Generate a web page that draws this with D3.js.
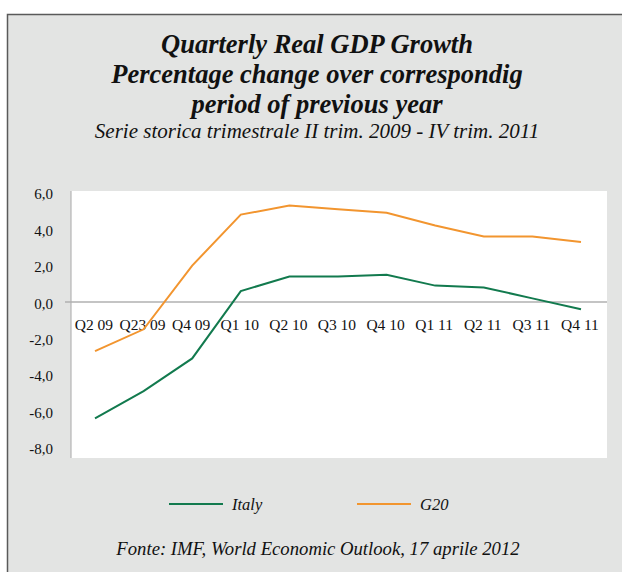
<!DOCTYPE html>
<html>
<head>
<meta charset="utf-8">
<script src="https://cdn.jsdelivr.net/npm/d3@7"></script>
<style>
  body { margin: 0; background: #fff; }
  svg text { font-family: "Liberation Serif", "DejaVu Serif", serif; fill: #111; }
</style>
</head>
<body>
<div class="chart"></div>
<script>
// data
const quarters = ['Q2 09', 'Q23 09', 'Q4 09', 'Q1 10', 'Q2 10', 'Q3 10', 'Q4 10', 'Q1 11', 'Q2 11', 'Q3 11', 'Q4 11']
const italy = [-6.4, -4.9, -3.1, 0.6, 1.4, 1.4, 1.5, 0.9, 0.8, 0.2, -0.4]
const g20 = [-2.7, -1.5, 2.0, 4.8, 5.3, 5.1, 4.9, 4.2, 3.6, 3.6, 3.3]
const yTicks = [6, 4, 2, 0, -2, -4, -6, -8]

const seriesList = [
  { name: 'Italy', values: italy, color: '#127a4e' },
  { name: 'G20', values: g20, color: '#f2952f' }
]

const width = 622
const height = 572

const svg = d3.select(".chart")
  .append("svg")
    .attr("width", width)
    .attr("height", height)

// grey panel with dark frame on top and left
svg.append("rect")
  .attr("x", 7).attr("y", 14)
  .attr("width", width - 7).attr("height", height - 14)
  .attr("fill", "#e3e4e3")
svg.append("path")
  .attr("d", `M7.5,${height} V14.5 H${width}`)
  .attr("fill", "none")
  .attr("stroke", "#5a5a5a")
  .attr("stroke-width", 1.5)

// titles
const titleLines = ['Quarterly Real GDP Growth', 'Percentage change over correspondig', 'period of previous year']
svg.selectAll("text.title")
  .data(titleLines)
  .join("text")
    .attr("class", "title")
    .attr("x", 317)
    .attr("y", (d, i) => 53 + i * 30)
    .attr("text-anchor", "middle")
    .style("font-size", "26.5px")
    .style("font-style", "italic")
    .style("font-weight", "bold")
    .text(d => d)

svg.append("text")
  .attr("x", 317)
  .attr("y", 138)
  .attr("text-anchor", "middle")
  .style("font-size", "21px")
  .style("font-style", "italic")
  .text("Serie storica trimestrale II trim. 2009 - IV trim. 2011")

// plot area
const plot = { left: 71, right: 607, top: 191, bottom: 458 }

const x = d3.scalePoint()
  .domain(quarters)
  .range([95, 581])

const y = d3.scaleLinear()
  .domain([-8, 6])
  .range([447.6, 192.8])

svg.append("rect")
  .attr("x", plot.left).attr("y", plot.top)
  .attr("width", plot.right - plot.left)
  .attr("height", plot.bottom - plot.top)
  .attr("fill", "#fff")

// y axis
const yAxis = svg.append("g")
  .attr("transform", `translate(${plot.left},0)`)
  .call(d3.axisLeft(y).tickValues(yTicks).tickSize(0).tickPadding(18)
    .tickFormat(d => d3.format(".1f")(d).replace(".", ",").replace("−", "-")))
yAxis.select(".domain").remove()
yAxis.selectAll("text")
  .style("font-size", "15px")
  .style("font-family", "'Liberation Serif', serif")
  .attr("dy", "0.4em")

svg.append("line")
  .attr("x1", plot.left).attr("x2", plot.left)
  .attr("y1", plot.top).attr("y2", plot.bottom)
  .attr("stroke", "#a8a8a8")
  .attr("stroke-width", 1)

// zero line with category labels under it
svg.append("line")
  .attr("x1", plot.left - 6).attr("x2", plot.right)
  .attr("y1", y(0)).attr("y2", y(0))
  .attr("stroke", "#b0b0b0")
  .attr("stroke-width", 1.5)

const xAxis = svg.append("g")
  .attr("transform", `translate(0,${y(0)})`)
  .call(d3.axisBottom(x).tickSize(0).tickPadding(17))
xAxis.select(".domain").remove()
xAxis.selectAll("text")
  .style("font-size", "15.5px")
  .style("font-family", "'Liberation Serif', serif")
  .attr("dx", "-0.1em")

// lines
const line = d3.line()
  .x((d, i) => x(quarters[i]))
  .y(d => y(d))

svg.selectAll("path.series")
  .data(seriesList)
  .join("path")
    .attr("class", "series")
    .attr("d", d => line(d.values))
    .attr("fill", "none")
    .attr("stroke", d => d.color)
    .attr("stroke-width", 2)

// legend
const legend = svg.selectAll("g.legend")
  .data(seriesList)
  .join("g")
    .attr("class", "legend")
    .attr("transform", (d, i) => `translate(${169 + i * 188},504)`)
legend.append("line")
  .attr("x1", 0).attr("x2", 54)
  .attr("stroke", d => d.color)
  .attr("stroke-width", 2)
legend.append("text")
  .attr("x", 63)
  .attr("dy", "0.35em")
  .style("font-size", "16.5px")
  .style("font-style", "italic")
  .text(d => d.name)

svg.append("text")
  .attr("x", 318)
  .attr("y", 555)
  .attr("text-anchor", "middle")
  .style("font-size", "18.7px")
  .style("font-style", "italic")
  .text("Fonte: IMF, World Economic Outlook, 17 aprile 2012")
</script>
</body>
</html>
